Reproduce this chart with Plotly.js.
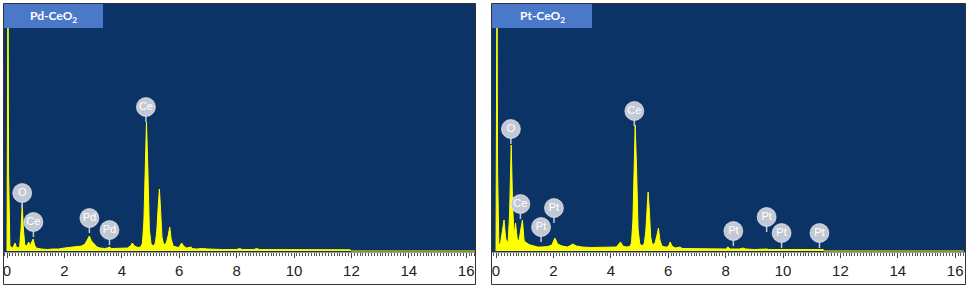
<!DOCTYPE html>
<html>
<head>
<meta charset="utf-8">
<script src="https://cdn.plot.ly/plotly-3.0.1.min.js"></script>
<style>html,body{margin:0;padding:0;background:#fff;}#chart{width:969px;height:290px;}</style>
</head>
<body>
<div id="chart"></div>
<script>
// ---- Data (energy in keV, counts in arbitrary units) ----
const panelTitles = ['Pd-CeO<sub>2</sub>', 'Pt-CeO<sub>2</sub>'];

const pdEnergy = [0, 0.015, 0.035, 0.055, 0.1, 0.2, 0.28, 0.34, 0.44, 0.49, 0.53, 0.57, 0.62, 0.68, 0.72, 0.76, 0.8, 0.86, 0.91, 0.96, 1.02, 1.2, 1.4, 1.6, 1.8, 2.0, 2.2, 2.4, 2.6, 2.72, 2.8, 2.87, 2.94, 3.0, 3.06, 3.14, 3.25, 3.4, 3.5, 3.57, 3.64, 3.8, 4.0, 4.2, 4.3, 4.37, 4.44, 4.56, 4.66, 4.72, 4.77, 4.82, 4.86, 4.91, 4.96, 5.02, 5.1, 5.17, 5.22, 5.27, 5.31, 5.35, 5.4, 5.46, 5.55, 5.62, 5.67, 5.72, 5.79, 5.9, 5.98, 6.04, 6.09, 6.15, 6.25, 6.34, 6.4, 6.47, 6.6, 6.8, 6.9, 7.0, 7.5, 8.0, 8.1, 8.2, 8.6, 8.7, 8.8, 9.5, 10, 11, 11.95, 12.0, 16.3];
const pdCounts = [0, 80, 300, 80, 5, 3, 8, 3, 4, 22, 47, 22, 6, 5, 7, 9, 5, 8, 12, 6, 3, 2, 1.5, 2, 2, 3, 3.5, 4, 5, 7, 11, 15, 10, 8, 7, 4, 3, 2.5, 3, 4, 2.5, 2.5, 3, 3, 5, 8, 5, 3.5, 4, 8, 30, 95, 129, 80, 22, 7, 5, 8, 20, 45, 62, 42, 14, 6, 8, 16, 24, 12, 5, 4, 3.5, 6, 8, 5, 3, 3.5, 4, 2.5, 2, 2.5, 2, 2, 1.5, 1.5, 2.5, 1.5, 1.5, 2.5, 1.5, 1.5, 1.3, 1.3, 1.2, 0, 0];

const ptEnergy = [0, 0.015, 0.035, 0.055, 0.1, 0.16, 0.22, 0.28, 0.34, 0.42, 0.47, 0.53, 0.58, 0.63, 0.68, 0.74, 0.8, 0.86, 0.92, 0.98, 1.05, 1.12, 1.2, 1.3, 1.45, 1.6, 1.8, 1.95, 2.05, 2.15, 2.3, 2.5, 2.68, 2.8, 3.0, 3.3, 3.6, 4.0, 4.2, 4.28, 4.34, 4.42, 4.55, 4.66, 4.72, 4.77, 4.81, 4.85, 4.9, 4.95, 5.01, 5.1, 5.17, 5.22, 5.27, 5.3, 5.34, 5.39, 5.45, 5.54, 5.61, 5.66, 5.71, 5.78, 5.9, 5.98, 6.03, 6.07, 6.13, 6.24, 6.34, 6.4, 6.5, 6.8, 7.0, 7.5, 8.0, 8.08, 8.16, 8.5, 8.6, 8.7, 9.0, 9.44, 9.5, 10, 10.5, 11, 11.4, 11.42, 16.3];
const ptCounts = [0, 80, 300, 80, 6, 8, 20, 31, 12, 8, 35, 106, 45, 15, 28, 12, 10, 22, 31, 10, 8, 7, 6, 5, 4, 4, 4.5, 6, 13, 7, 5, 4, 7, 5, 4, 3.5, 3.5, 3.5, 4, 7, 9, 5, 4, 4.5, 8, 30, 95, 126, 80, 22, 7, 5, 8, 20, 45, 59, 42, 14, 6, 8, 16, 23, 11, 5, 4, 4, 6, 9, 5, 3, 3.5, 4, 2.5, 2.5, 2, 2, 2, 4, 2, 2, 3, 2, 1.5, 2, 1.5, 1.5, 1.5, 1.5, 1.5, 0, 0];

const pdLabelEnergy = [0.53, 0.92, 2.87, 3.57, 4.84];
const pdLabelHeight = [58, 29, 33, 21, 144];
const pdLabelText = ['O', 'Ce', 'Pd', 'Pd', 'Ce'];

const ptLabelEnergy = [0.52, 0.85, 1.57, 2.02, 4.82, 8.27, 9.43, 9.95, 11.27];
const ptLabelHeight = [122, 47, 24, 43, 140, 20, 34, 18, 18];
const ptLabelText = ['O', 'Ce', 'Pt', 'Pt', 'Ce', 'Pt', 'Pt', 'Pt', 'Pt'];

const tickValues = [0, 2, 4, 6, 8, 10, 12, 14, 16];
const tickLabels = ['0', '2', '4', '6', '8', '10', '12', '14', '16'];

// ---- Styles ----
const W = 969, H = 290;
const navy = '#0b3366';
const yellow = '#ffff00';
const badge = '#c3c9d4';
const stem = 15;

function spectrum(x, y, xa, ya) {
  return {x: x, y: y, xaxis: xa, yaxis: ya, type: 'scatter', mode: 'lines',
    line: {color: yellow, width: 1, shape: 'linear'}, fill: 'tozeroy', fillcolor: yellow,
    hoverinfo: 'skip', showlegend: false};
}
function labels(x, y, t, xa, ya) {
  return {x: x, y: y, text: t, xaxis: xa, yaxis: ya, type: 'scatter', mode: 'markers+text',
    marker: {symbol: 'circle', size: 19, color: badge, line: {color: 'rgba(255,255,255,0.55)', width: 1}},
    textposition: 'middle center', textfont: {family: 'Liberation Sans, Arial, sans-serif', size: 11, color: '#ffffff'},
    error_y: {type: 'data', symmetric: false, array: x.map(() => 0), arrayminus: x.map(() => stem),
      color: badge, thickness: 1.5, width: 0},
    cliponaxis: false, hoverinfo: 'skip', showlegend: false};
}

const traces = [
  spectrum(pdEnergy, pdCounts, 'x', 'y'),
  spectrum(ptEnergy, ptCounts, 'x2', 'y2'),
  labels(pdLabelEnergy, pdLabelHeight, pdLabelText, 'x', 'y'),
  labels(ptLabelEnergy, ptLabelHeight, ptLabelText, 'x2', 'y2')
];

const px = v => v / W, py = v => 1 - v / H;

function xaxisCfg(domain, range) {
  return {domain: domain, range: range, showgrid: false, zeroline: false, showline: true,
    linecolor: '#9a9a9a', linewidth: 1, ticks: 'outside', ticklen: 5, tickwidth: 1, tickcolor: '#444',
    tickvals: tickValues, ticktext: tickLabels,
    tickfont: {family: 'Liberation Sans, Arial, sans-serif', size: 15, color: '#222'},
    minor: {dtick: 0.1, ticks: 'outside', ticklen: 3, tickcolor: '#555', tickwidth: 1, showgrid: false},
    fixedrange: true};
}
function yaxisCfg(anchor) {
  return {domain: [py(252), py(3)], range: [-1, 248], visible: false, showgrid: false,
    zeroline: false, anchor: anchor, fixedrange: true};
}

const layout = {
  width: W, height: H, margin: {l: 0, r: 0, t: 0, b: 0},
  paper_bgcolor: '#ffffff', plot_bgcolor: navy, showlegend: false,
  xaxis: Object.assign(xaxisCfg([px(4), px(475)], [-3 / 28.7, 468 / 28.7]), {anchor: 'y'}),
  yaxis: yaxisCfg('x'),
  xaxis2: Object.assign(xaxisCfg([px(492), px(965)], [-4 / 28.7, 469 / 28.7]), {anchor: 'y2'}),
  yaxis2: yaxisCfg('x2'),
  shapes: [
    {type: 'rect', xref: 'paper', yref: 'paper', x0: px(3.5), x1: px(475.5), y0: py(284.5), y1: py(3.5),
      line: {color: '#333', width: 1}, fillcolor: 'rgba(0,0,0,0)', layer: 'above'},
    {type: 'rect', xref: 'paper', yref: 'paper', x0: px(491.5), x1: px(965.5), y0: py(284.5), y1: py(3.5),
      line: {color: '#333', width: 1}, fillcolor: 'rgba(0,0,0,0)', layer: 'above'},
    {type: 'rect', xref: 'paper', yref: 'paper', x0: px(4), x1: px(103), y0: py(28), y1: py(4),
      line: {width: 0}, fillcolor: '#4a79c9', layer: 'above'},
    {type: 'rect', xref: 'paper', yref: 'paper', x0: px(492), x1: px(592), y0: py(28), y1: py(4),
      line: {width: 0}, fillcolor: '#4a79c9', layer: 'above'}
  ],
  annotations: [
    {xref: 'paper', yref: 'paper', x: px(53), y: py(16), text: panelTitles[0], showarrow: false,
      font: {family: 'Lato, Open Sans, sans-serif', size: 12, color: '#ffffff', weight: 'bold'}, xanchor: 'center', yanchor: 'middle'},
    {xref: 'paper', yref: 'paper', x: px(542), y: py(16), text: panelTitles[1], showarrow: false,
      font: {family: 'Lato, Open Sans, sans-serif', size: 12, color: '#ffffff', weight: 'bold'}, xanchor: 'center', yanchor: 'middle'}
  ]
};

Plotly.newPlot('chart', traces, layout, {displayModeBar: false, staticPlot: true});
</script>
</body>
</html>
